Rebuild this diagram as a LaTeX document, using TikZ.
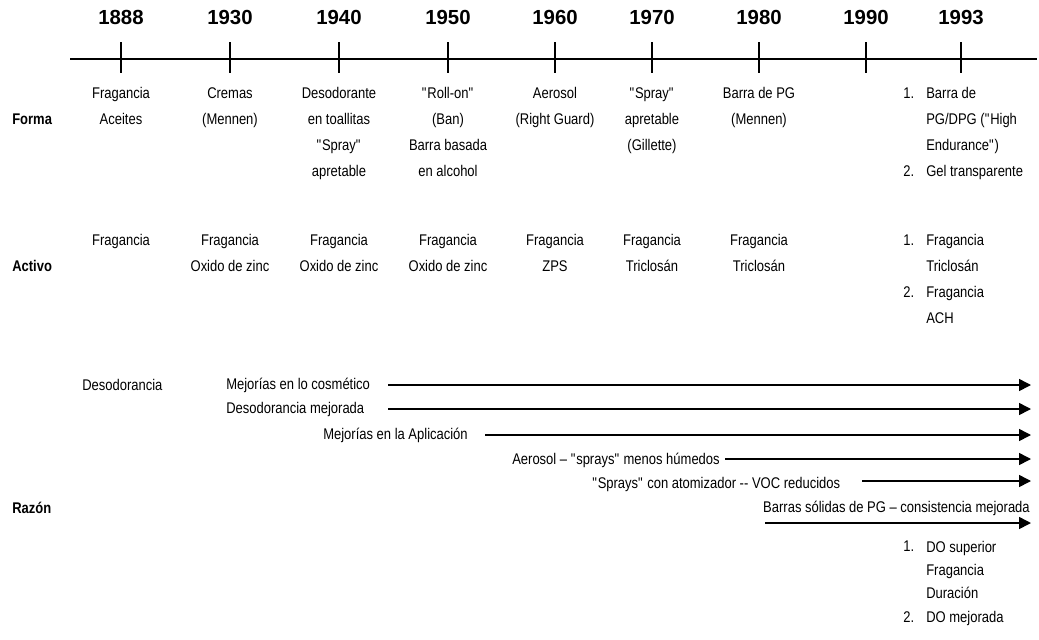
\documentclass[tikz,border=0pt]{standalone}
\usepackage{fontspec}
\setmainfont{Liberation Sans}[FakeStretch=0.84]
\newfontfamily\anchofont{Liberation Sans}
\usetikzlibrary{arrows.meta, positioning}
\newcommand{\cmd}{\textquotedbl}

\begin{document}
\begin{tikzpicture}[x=0.025cm, y=-0.025cm,
    evento/.style={inner sep=0pt, align=center, anchor=north, font=\fontsize{11}{18.4}\selectfont},
    lista/.style={inner sep=0pt, align=left, anchor=north west, font=\fontsize{11}{18.4}\selectfont},
    razon/.style={inner sep=0pt, anchor=west, font=\fontsize{11}{13}\selectfont},
    fila/.style={inner sep=0pt, anchor=west, font=\fontsize{11}{13}\selectfont\bfseries},
    anio/.style={inner sep=0pt, font=\anchofont\bfseries\fontsize{14.5}{17}\selectfont},
    marca/.style={line width=0.9pt},
    flecha/.style={line width=1.1pt, -{Triangle[length=0.3cm, width=0.3cm]}}]
  \useasboundingbox (0,0) rectangle (1039,639);

  % eje del tiempo
  \coordinate (ejeI) at (70,59);
  \coordinate (ejeF) at (1037,59);
  \draw[marca] (ejeI) -- (ejeF);
  \foreach \anio/\xx in {1888/121, 1930/230, 1940/339, 1950/448, 1960/555,
                         1970/652, 1980/759, 1990/866, 1993/961}{
    \coordinate (t\anio) at (\xx,59);
    \draw[marca] (t\anio) ++(0,-17) -- ++(0,31);
    \node[anio, above=0.85cm of t\anio] (l\anio) {\anio};
  }

  % Forma
  \node[fila] (forma) at (12,119) {Forma};
  \node[evento] (f1888) at (121,87.5) {Fragancia\\Aceites};
  \node[evento] (f1930) at (230,87.5) {Cremas\\(Mennen)};
  \node[evento] (f1940) at (339,87.5)
       {Desodorante\\en toallitas\\\cmd Spray\cmd\\apretable};
  \node[evento] (f1950) at (448,87.5)
       {\cmd Roll-on\cmd\\(Ban)\\Barra basada\\en alcohol};
  \node[evento] (f1960) at (555,87.5) {Aerosol\\(Right Guard)};
  \node[evento] (f1970) at (652,87.5) {\cmd Spray\cmd\\apretable\\(Gillette)};
  \node[evento] (f1980) at (759,87.5) {Barra de PG\\(Mennen)};
  \node[lista] (fn1) at (903,87.5) {1.};
  \node[lista] (f1993a) at (926,87.5) {Barra de\\PG/DPG (\cmd High\\Endurance\cmd)};
  \node[lista] (fn2) at (903,165.5) {2.};
  \node[lista] (f1993b) at (926,165.5) {Gel transparente};

  % Activo
  \node[fila] (activo) at (12,266) {Activo};
  \node[evento] (a1888) at (121,234.5) {Fragancia};
  \node[evento] (a1930) at (230,234.5) {Fragancia\\Oxido de zinc};
  \node[evento] (a1940) at (339,234.5) {Fragancia\\Oxido de zinc};
  \node[evento] (a1950) at (448,234.5) {Fragancia\\Oxido de zinc};
  \node[evento] (a1960) at (555,234.5) {Fragancia\\ZPS};
  \node[evento] (a1970) at (652,234.5) {Fragancia\\Triclosán};
  \node[evento] (a1980) at (759,234.5) {Fragancia\\Triclosán};
  \node[lista] (an1) at (903,234.5) {1.};
  \node[lista] (a1993a) at (926,234.5) {Fragancia\\Triclosán};
  \node[lista] (an2) at (903,286.5) {2.};
  \node[lista] (a1993b) at (926,286.5) {Fragancia\\ACH};

  % Razon
  \node[fila] (razon) at (12,508) {Razón};
  \node[razon] (deso) at (82,385) {Desodorancia};
  \node[razon] (r1) at (226,385) {Mejorías en lo cosmético};
  \node[razon] (r2) at (226,409) {Desodorancia mejorada};
  \node[razon] (r3) at (323,435) {Mejorías en la Aplicación};
  \node[razon] (r4) at (512,460) {Aerosol – \cmd sprays\cmd\ menos húmedos};
  \node[razon] (r5) at (592,484) {\cmd Sprays\cmd\ con atomizador {-}{-} VOC reducidos};
  \node[razon, anchor=east] (r6) at (1030,508) {Barras sólidas de PG – consistencia mejorada};

  \coordinate (ini1) at (388,385);  \coordinate (fin1) at (1031,385);
  \coordinate (ini2) at (388,409);  \coordinate (fin2) at (1031,409);
  \coordinate (ini3) at (485,435);  \coordinate (fin3) at (1031,435);
  \coordinate (ini4) at (725,459);  \coordinate (fin4) at (1031,459);
  \coordinate (ini5) at (862,481);  \coordinate (fin5) at (1031,481);
  \coordinate (ini6) at (765,523);  \coordinate (fin6) at (1031,523);
  \foreach \i in {1,...,6}
    \draw[flecha] (ini\i) -- (fin\i);

  \node[lista] (rn1) at (903,540.5) {1.};
  \node[lista, font=\fontsize{11}{16.7}\selectfont] (r7a) at (926,540.5)
       {DO superior\\Fragancia\\Duración};
  \node[lista] (rn2) at (903,611) {2.};
  \node[lista] (r7b) at (926,611) {DO mejorada};
\end{tikzpicture}
\end{document}
